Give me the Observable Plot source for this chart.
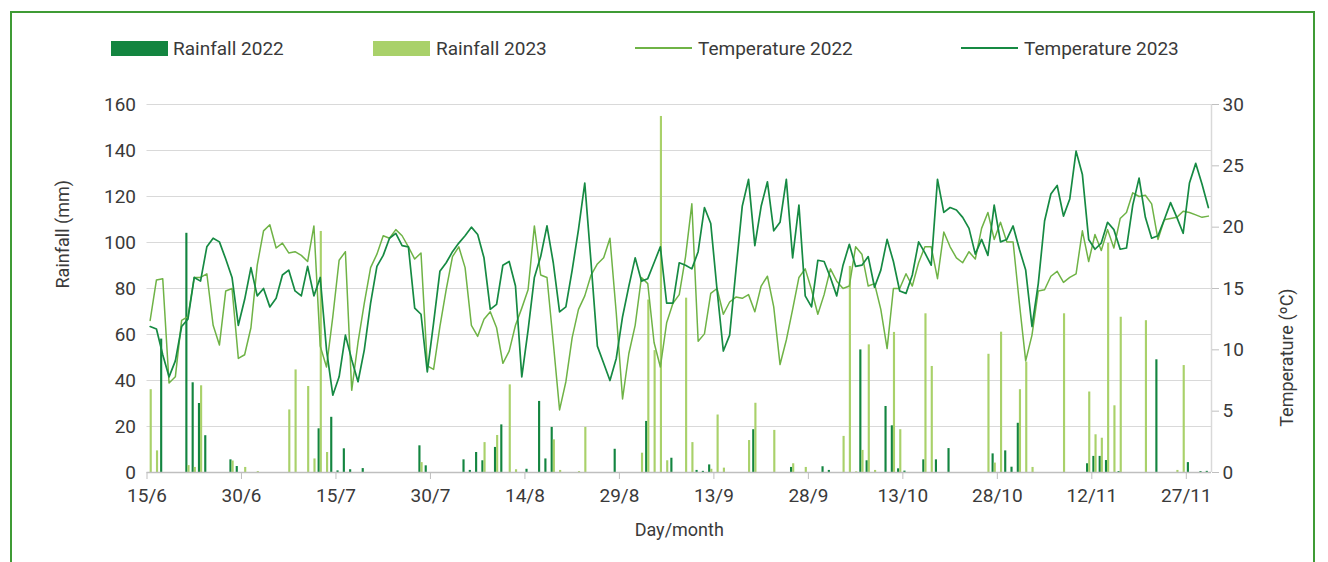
<!DOCTYPE html>
<html>
<head>
<meta charset="utf-8">
<script src="https://cdn.jsdelivr.net/npm/d3@7"></script>
<script src="https://cdn.jsdelivr.net/npm/@observablehq/plot@0.6"></script>
<style>
  html, body { margin: 0; padding: 0; background: #fff; }
  body { width: 1328px; height: 562px; overflow: hidden; position: relative; font-family: Roboto, "Liberation Sans", sans-serif; color: #3a3a3a; }
  #frame { position: absolute; left: 10px; top: 11px; width: 1305px; height: 620px; border: 2px solid #3f9b35; box-sizing: border-box; pointer-events: none; }
  #legend { position: relative; height: 70px; width: 1328px; }
  .sw { position: absolute; top: 41px; width: 57px; height: 15px; }
  .ln { position: absolute; top: 47px; width: 57px; height: 2px; }
  .lt { position: absolute; top: 38px; font-size: 19px; line-height: 22px; white-space: nowrap; }
  #chart { position: relative; }
</style>
</head>
<body>
<div id="frame"></div>
<div id="legend"></div>
<div id="chart"></div>
<script>
// ---- data (15/6 .. 30/11, one value per day) ----
const tickLabels = ["15/6","30/6","15/7","30/7","14/8","29/8","13/9","28/9","13/10","28/10","12/11","27/11"];

const rain2022 = [
0,0,58,0,0,0,104,39,30,16,
0,0,0,5.5,2.6,0,0,0,0,0,
0,0,0,0,0,0,0,19,0,24,
0.7,10.3,1.2,0,1.7,0,0,0,0,0,
0,0,0,11.6,2.9,0,0,0,0,0,
5.5,0.9,8.7,5.1,0,10.9,20.7,0,0,0,
1.4,0,30.9,5.9,19.6,0,0,0,0,0,
0,0,0,0,10.1,0,0,0,0,22.2,
0,0,0,6.2,0,0,0,0.9,0.5,3.3,
0,0,0,0,0,0,18.6,0,0,0,
0,0,2.2,0,0,0,0,2.5,0.9,0,
0,0,0,53.3,5.1,0,0,28.7,20.3,1.6,
0.6,0,0,5.5,0,5.5,0,10.4,0,0,
0,0,0,0,8.1,0,9.4,2.3,21.4,0,
0,0,0,0,0,0,0,0,0,3.8,
7,7,5.2,0,0.4,0,0,0,0,0,
49,0,0,0,0,4.3,0,0.4,0.5];

const rain2023 = [
36,9.4,0,0,0,0,3,2.2,37.7,0,
0,0,0,5,0,2.2,0,0.4,0,0,
0,0,27.2,44.6,0,37.4,5.9,104.8,8.7,0,
0,0,0,0,0,0,0,0,0,0,
0,0,0,4.3,0,0,0,0,0,0,
0,0,0,13,0,16.1,0,38.1,1.2,0,
0,0,0,0,14.2,0.9,0,0,0.4,19.6,
0,0,0,0,0,0,0,0,8.4,75,
53,154.8,5.1,0,0,75.8,13,0,0,1.4,
25,1.9,0,0,0,13.9,30.1,0,0,18.3,
0,0,3.8,0,2.2,0,0,0,0,0,
15.7,89.6,0.3,9.6,55.5,0.9,0,0,60.9,18.6,
0,0,0,69,46.1,0,0,0,0,0,
0,0,0,51.4,4.1,61,0,0,36,48,
2.2,0,0,0,0,69,0,0,0,35,
16.4,14.9,99.7,29,67.5,0,0,0,66,0,
0,0,0,0.9,46.5,0,0,0,0];

const temp2022 = [
12.4,15.7,15.8,7.3,7.8,12.4,12.7,15.9,15.9,16.2,
12.0,10.4,14.8,15.0,9.3,9.6,11.8,16.9,19.7,20.2,
18.3,18.7,17.9,18.0,17.7,17.2,20.1,10.3,8.6,12.7,
17.3,18.0,6.7,10.6,13.8,16.7,17.8,19.3,19.1,19.8,
19.3,18.4,17.4,17.9,8.7,8.4,11.9,14.9,17.6,18.4,
16.7,12.0,11.1,12.5,13.1,11.8,8.9,9.9,12.0,13.4,
14.9,20.1,16.1,15.9,10.6,5.1,7.4,11.0,13.3,14.4,
16.1,17.0,17.5,19.1,13.0,6.0,9.7,12.0,15.9,15.4,
10.6,8.6,12.2,13.8,14.5,17.6,21.9,10.7,11.3,14.6,
15.0,12.9,13.9,14.3,14.2,14.5,13.1,15.2,16.0,13.5,
8.8,10.8,13.3,15.9,16.6,14.9,12.9,14.5,16.6,15.6,
15.0,15.2,18.4,17.8,15.2,15.4,13.3,10.1,15.0,15.0,
16.2,15.2,17.1,18.4,18.4,15.8,19.6,18.4,17.5,17.1,
18.0,17.4,19.9,21.2,19.0,20.4,18.8,18.8,13.8,9.1,
11.2,14.8,14.9,16.0,16.4,15.5,15.9,16.2,19.7,17.2,
19.4,18.1,19.8,18.3,20.7,21.2,22.8,22.5,22.6,21.9,
19.0,20.6,20.7,20.8,21.3,21.2,21.0,20.8,20.9];

const temp2023 = [
11.9,11.7,9.6,7.8,9.1,11.9,12.5,15.9,15.6,18.4,
19.1,18.8,17.4,15.9,12.0,14.1,16.7,14.4,15.0,13.5,
14.2,16.1,16.5,14.8,14.4,16.8,14.4,15.9,10.0,6.3,
7.8,11.2,9.2,7.4,10.0,13.8,16.8,17.7,19.1,19.5,
18.5,18.4,13.4,12.9,8.2,12.2,16.4,17.1,18.0,18.7,
19.3,20.0,19.4,17.5,13.3,13.7,16.9,17.2,15.2,7.8,
11.6,15.9,17.6,20.1,17.1,13.1,13.5,16.5,19.8,23.6,
17.1,10.3,8.9,7.5,9.3,12.7,15.2,17.5,15.6,15.8,
17.1,18.4,13.8,13.8,17.1,16.9,16.6,18.0,21.6,20.3,
14.9,9.9,11.2,16.5,21.7,23.9,18.5,21.7,23.7,19.7,
20.4,23.9,17.5,21.8,14.4,13.5,17.3,17.2,15.9,14.4,
16.9,18.6,16.8,16.9,17.6,15.1,16.5,19.0,17.2,14.8,
14.6,16.1,18.8,17.9,16.9,23.9,21.2,21.6,21.4,20.8,
19.9,17.8,19.0,17.7,21.8,18.8,19.0,20.1,18.2,16.5,
11.9,15.4,20.5,22.7,23.4,20.9,22.3,26.2,24.3,19.0,
18.2,18.7,20.4,19.8,18.2,18.3,21.8,24.0,20.8,19.1,
19.3,20.6,22.0,20.8,19.5,23.6,25.2,23.5,21.6];

const rainTicks = [0,20,40,60,80,100,120,140,160];
const tempTicks = [0,5,10,15,20,25,30];

// ---- styling ----
const C_R22 = "#138540";
const C_R23 = "#a9d16a";
const C_T22 = "#6fb346";
const C_T23 = "#168a43";
const GRID = "#d9d9d9";
const AXIS = "#bfbfbf";
const TXT = "#3a3a3a";
const FONT = "Roboto, 'Liberation Sans', sans-serif";

const n = temp2022.length;
const k = 160 / 30; // temperature -> rainfall axis factor
const rows = d3.range(n).map(i => ({i, r22: rain2022[i], r23: rain2023[i], t22: temp2022[i], t23: temp2023[i]}));
const xTicks = tickLabels.map((_, j) => j * 15 - 0.5);

// ---- legend ----
const legend = document.getElementById("legend");
legend.innerHTML = `
  <div class="sw" style="left:111px;background:${C_R22}"></div><div class="lt" style="left:173px">Rainfall 2022</div>
  <div class="sw" style="left:373px;background:${C_R23}"></div><div class="lt" style="left:436px">Rainfall 2023</div>
  <div class="ln" style="left:635px;background:${C_T22}"></div><div class="lt" style="left:698px">Temperature 2022</div>
  <div class="ln" style="left:961px;background:${C_T23}"></div><div class="lt" style="left:1024px">Temperature 2023</div>`;

// ---- chart ----
const chart = Plot.plot({
  width: 1328,
  height: 492,
  marginTop: 34,
  marginBottom: 90,
  marginLeft: 146.5,
  marginRight: 117,
  style: {fontFamily: FONT, fontSize: "19px", color: TXT, background: "transparent", overflow: "visible"},
  x: {type: "linear", domain: [-0.5, n - 0.5]},
  y: {domain: [0, 160]},
  marks: [
    Plot.ruleY(rainTicks.slice(1), {stroke: GRID, strokeWidth: 1}),
    Plot.ruleX([n - 0.5], {stroke: GRID, strokeWidth: 1.5}),
    Plot.rectY(rows, {x1: d => d.i - 0.34, x2: d => d.i, y: "r22", fill: C_R22, inset: 0}),
    Plot.rectY(rows, {x1: d => d.i, x2: d => d.i + 0.34, y: "r23", fill: C_R23, inset: 0}),
    Plot.ruleY([0], {stroke: AXIS, strokeWidth: 1.5}),
    Plot.line(rows, {x: "i", y: d => d.t22 * k, stroke: C_T22, strokeWidth: 1.5}),
    Plot.line(rows, {x: "i", y: d => d.t23 * k, stroke: C_T23, strokeWidth: 1.7}),
    Plot.axisY({ticks: rainTicks, tickSize: 0, tickPadding: 11, label: null, fill: TXT}),
    Plot.axisY({anchor: "right", ticks: tempTicks.map(t => t * k), tickFormat: v => String(Math.round(v / k)),
                tickSize: 7, tickPadding: 4, stroke: AXIS, label: null, fill: TXT}),
    Plot.axisX({ticks: xTicks, tickFormat: v => tickLabels[Math.round((v + 0.5) / 15)],
                tickSize: 7, tickPadding: 9, stroke: AXIS, label: null, fill: TXT}),
    Plot.text(["Rainfall (mm)"], {frameAnchor: "left", rotate: -90, dx: -84, fill: TXT, fontSize: 18}),
    Plot.text(["Temperature (ºC)"], {frameAnchor: "right", rotate: -90, dx: 76, fill: TXT, fontSize: 18}),
    Plot.text(["Day/month"], {frameAnchor: "bottom", dy: 63, fill: TXT, fontSize: 18})
  ]
});
document.getElementById("chart").appendChild(chart);
</script>
</body>
</html>
